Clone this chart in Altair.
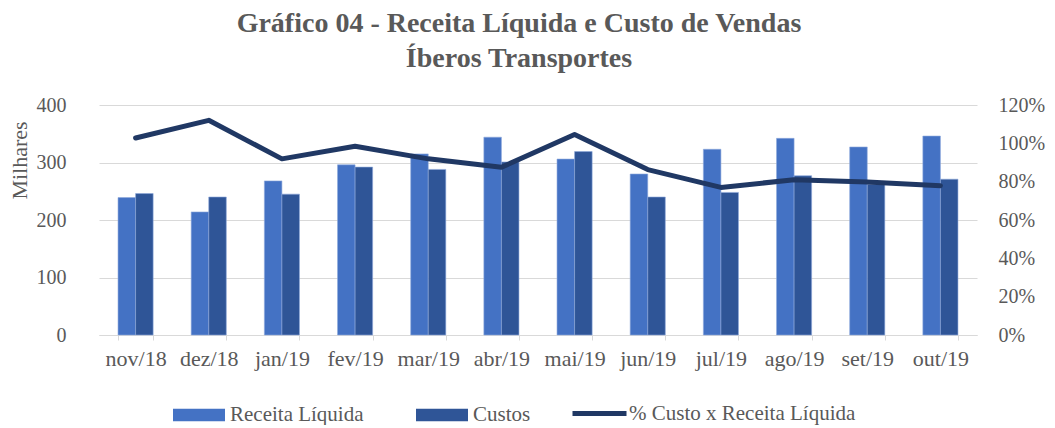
import altair as alt
import pandas as pd

meses = ["nov/18", "dez/18", "jan/19", "fev/19", "mar/19", "abr/19",
         "mai/19", "jun/19", "jul/19", "ago/19", "set/19", "out/19"]
receita = [239, 214, 268, 296, 315, 344, 306, 280, 323, 342, 327, 346]
custos = [246, 240, 245, 292, 288, 301, 319, 240, 248, 277, 262, 271]
pct_custo = [1.028, 1.120, 0.919, 0.985, 0.919, 0.875, 1.046, 0.863, 0.770, 0.810, 0.798, 0.779]

S_REC = "Receita Líquida"
S_CUS = "Custos"
S_PCT = "% Custo x Receita Líquida"

FONT = "Liberation Serif"
GREY = "#595959"

bars_df = pd.DataFrame(
    [{"mes": m, "serie": S_REC, "valor": v} for m, v in zip(meses, receita)]
    + [{"mes": m, "serie": S_CUS, "valor": v} for m, v in zip(meses, custos)]
)
line_df = pd.DataFrame({"mes": meses, "serie": S_PCT, "pct": pct_custo})

xenc = alt.X(
    "mes:N", sort=meses,
    scale=alt.Scale(paddingInner=0.52, paddingOuter=0.26),
    axis=alt.Axis(title=None, labelAngle=0, labelFont=FONT, labelFontSize=22,
                  labelColor=GREY, domainColor="#d9d9d9", tickColor="#d9d9d9",
                  tickSize=5, tickBand="extent", labelPadding=8, grid=False),
)

bar_legend = alt.Legend(
    title=None, orient="none", direction="horizontal", legendX=74, legendY=284,
    labelFont=FONT, labelFontSize=21, labelColor=GREY, labelOffset=5,
    symbolSize=2704, columnPadding=52, symbolOpacity=1, symbolStrokeWidth=0,
    symbolType="M-1,-0.24H1V0.24H-1Z", padding=0, labelLimit=400,
)
line_legend = alt.Legend(
    title=None, orient="none", direction="horizontal", legendX=471, legendY=279,
    labelFont=FONT, labelFontSize=21, labelColor=GREY, labelOffset=0,
    symbolSize=2916, symbolOpacity=1, symbolStrokeWidth=5, symbolType="stroke",
    padding=0, labelLimit=400,
)

bars = alt.Chart(bars_df).mark_bar(stroke="#8faadc", strokeWidth=0.6).encode(
    x=xenc,
    xOffset=alt.XOffset("serie:N", sort=[S_REC, S_CUS]),
    y=alt.Y("valor:Q", scale=alt.Scale(domain=[0, 400]),
            axis=alt.Axis(title="Milhares", values=[0, 100, 200, 300, 400],
                          labelFont=FONT, labelFontSize=20, labelColor=GREY,
                          titleFont=FONT, titleFontSize=22, titleColor=GREY,
                          titleFontWeight="normal", titleAngle=-90,
                          titleX=-80, titleY=55, titleAlign="center",
                          titleBaseline="middle",
                          ticks=False, domain=False, labelPadding=33,
                          gridColor="#d9d9d9", gridWidth=1)),
    color=alt.Color("serie:N", sort=[S_REC, S_CUS],
                    scale=alt.Scale(domain=[S_REC, S_CUS], range=["#4472C4", "#2F5597"]),
                    legend=bar_legend),
)

line = alt.Chart(line_df).mark_line(strokeWidth=5, strokeJoin="round", strokeCap="round").encode(
    x=xenc,
    y=alt.Y("pct:Q", scale=alt.Scale(domain=[0, 1.2]),
            axis=alt.Axis(title=None, orient="right", format=".0%",
                          values=[0, 0.2, 0.4, 0.6, 0.8, 1.0, 1.2],
                          labelFont=FONT, labelFontSize=20, labelColor=GREY,
                          ticks=False, domain=False, grid=False, labelPadding=21)),
    stroke=alt.Stroke("serie:N", scale=alt.Scale(domain=[S_PCT], range=["#203864"]),
                      legend=line_legend),
)

chart = alt.layer(bars, line).resolve_scale(y="independent").properties(
    width=878, height=230,
    autosize=alt.AutoSizeParams(type="none"),
    padding={"left": 91, "top": 97, "right": 70, "bottom": 90},
    title=alt.TitleParams(
        text=["Gráfico 04 - Receita Líquida e Custo de Vendas", "Íberos Transportes"],
        font=FONT, fontSize=28, fontWeight="bold", color=GREY,
        anchor="middle", dx=-19, offset=22, lineHeight=35,
    ),
).configure_view(stroke=None)

chart.save("out.html", embed_options={"renderer": "svg", "actions": False})
